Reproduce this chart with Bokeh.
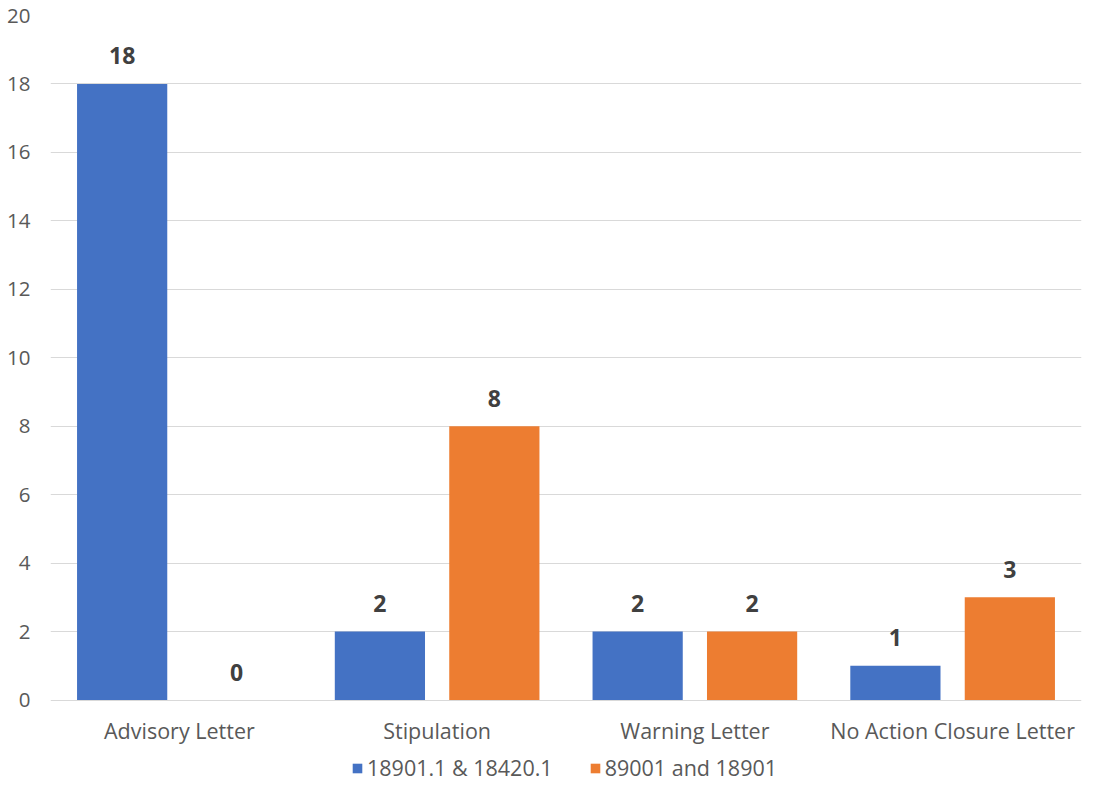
from bokeh.plotting import figure
from bokeh.models import ColumnDataSource, Range1d, FactorRange, Legend, LegendItem
from bokeh.transform import dodge
from bokeh.core.properties import value
from bokeh.embed import file_html
from bokeh.resources import INLINE

categories = ["Advisory Letter", "Stipulation", "Warning Letter", "No Action Closure Letter"]
series_names = ["18901.1 & 18420.1", "89001 and 18901"]
series_a = [18, 2, 2, 1]
series_b = [0, 8, 2, 3]
y_ticks = [0, 2, 4, 6, 8, 10, 12, 14, 16, 18, 20]

BLUE = "#4472C4"
ORANGE = "#ED7D31"
FONT = "Open Sans"

src = ColumnDataSource(dict(
    cat=categories,
    zero=[0] * len(categories),
    a=series_a,
    b=series_b,
    a_lbl=[str(v) for v in series_a],
    b_lbl=[str(v) for v in series_b],
))

# frame spans from the top of the plot down to the bottom of the figure;
# the area below zero holds the category labels and the legend
p = figure(x_range=FactorRange(*categories), y_range=Range1d(-2.41, 20),
           width=1083, height=782, output_backend="svg", toolbar_location=None,
           min_border_top=15, min_border_left=50, min_border_right=2, min_border_bottom=0)
p.outline_line_color = None

r1 = p.vbar(x=dodge("cat", -0.222, range=p.x_range), top="a", bottom="zero", width=0.35,
            source=src, fill_color=BLUE, line_color=None)
r2 = p.vbar(x=dodge("cat", 0.222, range=p.x_range), top="b", bottom="zero", width=0.35,
            source=src, fill_color=ORANGE, line_color=None)

p.text(x=dodge("cat", -0.222, range=p.x_range), y="a", text="a_lbl", source=src,
       text_align="center", text_baseline="middle", y_offset=-28,
       text_font=value(FONT), text_font_style="bold", text_font_size="23px", text_color="#404040")
p.text(x=dodge("cat", 0.222, range=p.x_range), y="b", text="b_lbl", source=src,
       text_align="center", text_baseline="middle", y_offset=-28,
       text_font=value(FONT), text_font_style="bold", text_font_size="23px", text_color="#404040")

# category labels under the baseline
p.text(x="cat", y="zero", text="cat", source=src,
       text_align="center", text_baseline="middle", y_offset=30,
       text_font=value(FONT), text_font_size="21.5px", text_color="#595959")

p.yaxis.ticker = y_ticks
p.yaxis.axis_line_color = None
p.yaxis.major_tick_line_color = None
p.yaxis.minor_tick_line_color = None
p.yaxis.major_tick_out = 0
p.yaxis.minor_tick_out = 0
p.yaxis.major_label_text_font = FONT
p.yaxis.major_label_text_font_size = "20.5px"
p.yaxis.major_label_text_color = "#595959"
p.yaxis.major_label_standoff = 20

p.xaxis.visible = False

p.xgrid.grid_line_color = None
p.ygrid.grid_line_color = "#D9D9D9"
p.ygrid.grid_line_width = 1

legend = Legend(items=[LegendItem(label=series_names[0], renderers=[r1]),
                       LegendItem(label=series_names[1], renderers=[r2])],
                orientation="horizontal", location=(301, 0),
                border_line_color=None, background_fill_alpha=0,
                label_text_font=FONT, label_text_font_size="21.5px", label_text_color="#595959",
                glyph_width=12, glyph_height=12, label_height=20, label_standoff=4, spacing=36,
                padding=0, margin=0)
p.add_layout(legend)

open("out.html", "w").write(file_html(p, INLINE))
